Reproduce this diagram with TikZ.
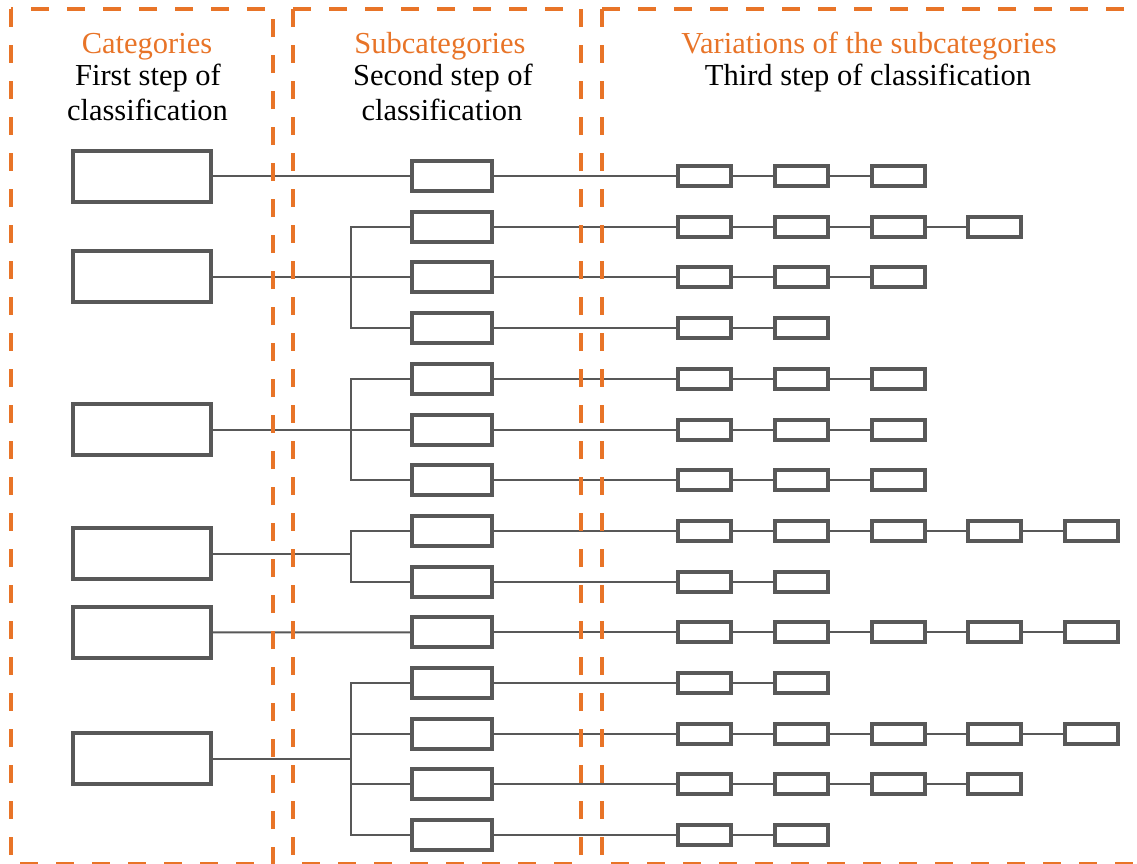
\documentclass[tikz,border=0pt]{standalone}
\usepackage{fontspec}
\setmainfont{Liberation Serif}
\definecolor{accent}{RGB}{232,116,40}
\definecolor{boxgray}{RGB}{88,88,88}

\begin{document}
\begin{tikzpicture}[x=1pt,y=-1pt,
  frame/.style={draw=accent, line width=4pt, dash pattern=on 18pt off 18pt},
  catbox/.style={draw=boxgray, line width=4pt, minimum width=138pt, minimum height=51pt, inner sep=0pt},
  subbox/.style={draw=boxgray, line width=4pt, minimum width=80pt, minimum height=30pt, inner sep=0pt},
  varbox/.style={draw=boxgray, line width=4pt, minimum width=53pt, minimum height=20pt, inner sep=0pt},
  link/.style={draw=boxgray, line width=2pt},
  title/.style={text=accent, font=\fontsize{30.5}{34}\selectfont, anchor=base, inner sep=0pt},
  note/.style={text=black, font=\fontsize{30.5}{34}\selectfont, anchor=base, inner sep=0pt}]

\useasboundingbox (0,0) rectangle (1137,863);

% column headings
\node[title] (h1)  at (147,53)  {Categories};
\node[note]  (h1b) at (148,85)  {First step of};
\node[note]  (h1c) at (147.5,120) {classification};
\node[title] (h2)  at (440,53)  {Subcategories};
\node[note]  (h2b) at (443,85)  {Second step of};
\node[note]  (h2c) at (442,120) {classification};
\node[title] (h3)  at (869,53)  {Variations of the subcategories};
\node[note]  (h3b) at (868,85)  {Third step of classification};

% subcategories and their variation chains
\foreach \n [count=\i] in {3,4,3,2,3,3,3,5,2,5,2,5,4,2} {
  \node[subbox] (s\i) at (452,{176+50.7*(\i-1)}) {};
  \foreach \k in {1,...,\n} {
    \node[varbox] (v\i-\k) at ({704.5+96.75*(\k-1)},{176+50.7*(\i-1)}) {};
  }
  \draw[link] (s\i.east) -- (v\i-1.west);
  \foreach \k in {2,...,\n} {
    \pgfmathtruncatemacro\p{\k-1}
    \draw[link] (v\i-\p.east) -- (v\i-\k.west);
  }
}

% categories
\node[catbox] (cat1) at (142,176) {};
\node[catbox] (cat2) at (142,276.5) {};
\node[catbox] (cat3) at (142,429.5) {};
\node[catbox] (cat4) at (142,553.5) {};
\node[catbox] (cat5) at (142,632.3) {};
\node[catbox] (cat6) at (142,758.7) {};

\coordinate (bx) at (351,0);

% category -> subcategory links
\draw[link] (cat1.east) -- (s1.west);
\draw[link] (cat5.east) -- (s10.west);

\draw[link] (cat2.east) -- (cat2.east -| bx);
\draw[link] (s2.west) -| (s4.west -| bx) -- (s4.west);
\draw[link] (s3.west) -- (s3.west -| bx);

\draw[link] (cat3.east) -- (cat3.east -| bx);
\draw[link] (s5.west) -| (s7.west -| bx) -- (s7.west);
\draw[link] (s6.west) -- (s6.west -| bx);

\draw[link] (cat4.east) -- (cat4.east -| bx);
\draw[link] (s8.west) -| (s9.west -| bx) -- (s9.west);

\draw[link] (cat6.east) -- (cat6.east -| bx);
\draw[link] (s11.west) -| (s14.west -| bx) -- (s14.west);
\draw[link] (s12.west) -- (s12.west -| bx);
\draw[link] (s13.west) -- (s13.west -| bx);

% dashed column frames
\draw[frame] (11,9) rectangle (273,864);
\draw[frame] (293,9) rectangle (581,864);
\draw[frame] (602,9) rectangle (1160,864);
\end{tikzpicture}
\end{document}
